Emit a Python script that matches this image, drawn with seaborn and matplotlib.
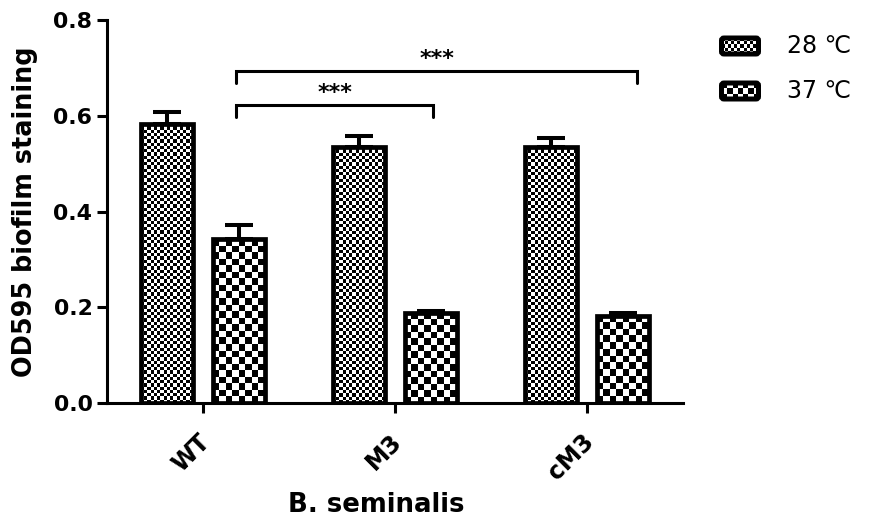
import numpy as np
import pandas as pd
import matplotlib
matplotlib.use("Agg")
import matplotlib.pyplot as plt
import matplotlib.transforms as mtransforms
import seaborn as sns
from matplotlib.patches import FancyBboxPatch

# ---------------- data ----------------
strains = ["WT", "M3", "cM3"]
temps = ["28 \u2103", "37 \u2103"]
od_28 = [0.583, 0.535, 0.535]
od_37 = [0.342, 0.188, 0.182]
err_28 = [0.025, 0.023, 0.018]
err_37 = [0.030, 0.005, 0.006]
yticks = [0.0, 0.2, 0.4, 0.6, 0.8]
sig_pairs = [(1, "***"), (2, "***")]   # WT 37 vs M3 37, WT 37 vs cM3 37
sig_heights = [0.622, 0.693]

df = pd.DataFrame({
    "strain": strains * 2,
    "temp": [temps[0]] * 3 + [temps[1]] * 3,
    "od": od_28 + od_37,
})

sns.set_style("ticks")
plt.rcParams["font.family"] = ["DejaVu Sans"]
plt.rcParams.update({"text.color": "black", "axes.labelcolor": "black",
                     "xtick.color": "black", "ytick.color": "black",
                     "axes.edgecolor": "black"})

W, H = 869, 528
fig = plt.figure(figsize=(W / 100, H / 100), dpi=100)
ax = fig.add_axes([107 / W, 1 - 403 / H, (683 - 107) / W, (403 - 20) / H])

sns.barplot(data=df, x="strain", y="od", hue="temp", order=strains, hue_order=temps,
            palette={temps[0]: "white", temps[1]: "white"}, edgecolor="black",
            linewidth=3.4, width=0.75, gap=0.28, errorbar=None, legend=False, ax=ax)

ax.set_xlim(-0.5, 2.5)
ax.set_ylim(0, 0.8)
ax.set_yticks(yticks)
ax.set_yticklabels([f"{v:.1f}" for v in yticks])
for s in ["top", "right"]:
    ax.spines[s].set_visible(False)
for s in ["left", "bottom"]:
    ax.spines[s].set_linewidth(2.2)
ax.tick_params(axis="both", direction="out", length=7, width=2.2, labelsize=15.8)
ax.tick_params(axis="x", labelsize=17)
for lab in ax.get_yticklabels() + ax.get_xticklabels():
    lab.set_fontweight("bold")
plt.setp(ax.get_xticklabels(), rotation=45, ha="right", va="top", rotation_mode="anchor")
off = mtransforms.ScaledTranslation(-5 / 100, -12 / 100, fig.dpi_scale_trans)
for lab in ax.get_xticklabels():
    lab.set_transform(lab.get_transform() + off)

ax.set_ylabel("OD595 biofilm staining", fontsize=18.4, fontweight="bold")
ax.set_xlabel("B. seminalis", fontsize=18.7, fontweight="bold")
ax.yaxis.set_label_coords(-0.12, 0.5)
ax.xaxis.set_label_coords(0.467, -0.232)

# checkerboard fills clipped to each bar
def checker_fill(target_ax, patch, cell_px, x0, y0, w, h):
    p0 = target_ax.transData.transform((x0, y0))
    p1 = target_ax.transData.transform((x0 + w, y0 + h))
    nx = max(1, int(round(abs(p1[0] - p0[0]) / cell_px)))
    ny = max(1, int(round(abs(p1[1] - p0[1]) / cell_px)))
    arr = np.indices((ny, nx)).sum(axis=0) % 2
    im = target_ax.imshow(arr, cmap="gray", extent=(x0, x0 + w, y0, y0 + h), origin="lower",
                          interpolation="nearest", aspect="auto", zorder=patch.get_zorder() - 0.05)
    im.set_clip_path(patch)
    return im

cells = [3.25, 6.5]
centers = []
for ci, cont in enumerate(ax.containers):
    cs = []
    for bar in cont:
        bar.set_facecolor("none")
        checker_fill(ax, bar, cells[ci], bar.get_x(), bar.get_y(), bar.get_width(), bar.get_height())
        cs.append(bar.get_x() + bar.get_width() / 2)
    centers.append(cs)
ax.set_xlim(-0.5, 2.5)
ax.set_ylim(0, 0.8)

# error bars (upper only)
for cs, vals, errs in [(centers[0], od_28, err_28), (centers[1], od_37, err_37)]:
    ax.errorbar(cs, vals, yerr=[np.zeros(len(errs)), errs], fmt="none", ecolor="black",
                elinewidth=2.9, capsize=10, capthick=2.9, zorder=5)

# significance brackets
x_left = centers[1][0] - 0.015
for (idx, txt), yb in zip(sig_pairs, sig_heights):
    x_right = centers[1][idx] + (0.01 if idx == 1 else 0.075)
    drop = 0.024
    ax.plot([x_left, x_left, x_right, x_right], [yb - drop, yb, yb, yb - drop],
            color="black", lw=2.2, solid_joinstyle="miter", clip_on=False)
    ax.text((x_left + x_right) / 2, yb + 0.004, txt, ha="center", va="bottom",
            fontsize=16, fontweight="bold", clip_on=False)

# legend (swatches + text)
leg_rows = [46, 91]
for ti, (t, yc) in enumerate(zip(temps, leg_rows)):
    sx0, sx1 = 721.5, 758.5
    sw = sx1 - sx0
    sh = 16
    lax = fig.add_axes([sx0 / W, 1 - (yc + sh / 2) / H, sw / W, sh / H])
    lax.set_axis_off()
    lax.set_xlim(0, sw)
    lax.set_ylim(0, sh)
    box = FancyBboxPatch((0, 0), sw, sh, boxstyle="round,pad=0,rounding_size=2.5",
                         facecolor="none", edgecolor="black",
                         linewidth=3.6, clip_on=False, zorder=3)
    lax.add_patch(box)
    checker_fill(lax, box, [3.0, 5.0][ti], 0, 0, sw, sh)
    fig.text(787 / W, 1 - yc / H, t, fontsize=17, ha="left", va="center")

fig.savefig("out.png", dpi=100)
